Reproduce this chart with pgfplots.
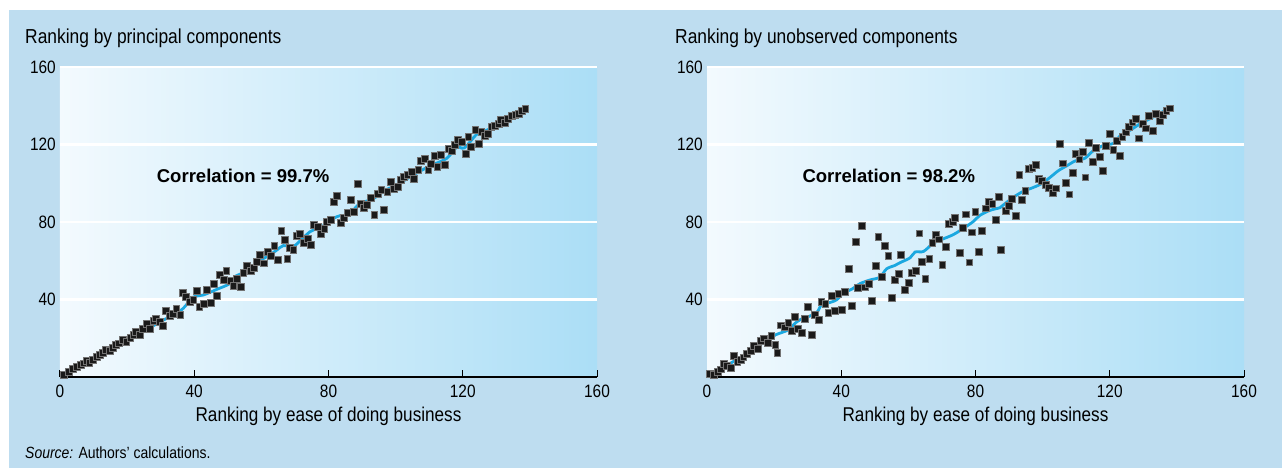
\documentclass[border=0pt]{standalone}
\usepackage{fontspec}
\setmainfont[FakeStretch=0.86]{Liberation Sans}
\newfontfamily\corrfont{Liberation Sans}
\usepackage{pgfplots}
\pgfplotsset{compat=1.18}
\definecolor{outerbg}{RGB}{190,221,240}
\definecolor{bgleft}{RGB}{243,250,254}
\definecolor{bgright}{RGB}{171,222,246}
\definecolor{lineblue}{RGB}{27,168,224}
\definecolor{markblack}{RGB}{26,26,26}

\pgfplotsset{
  panel/.style={
    scale only axis, width=537bp, height=310bp,
    anchor=south west,
    xmin=0, xmax=160, ymin=0, ymax=160,
    xtick={0,40,80,120,160}, ytick={40,80,120,160},
    axis x line*=bottom, axis y line*=left,
    y axis line style={draw=none},
    x axis line style={black, line width=2.6bp},
    tick align=inside, major tick length=7bp,
    x tick style={black, line width=1bp},
    y tick style={draw=none},
    ymajorgrids, major grid style={white, line width=2.4bp},
    axis background/.style={shade, left color=bgleft, right color=bgright},
    /pgf/number format/assume math mode=true,
    tick label style={font=\fontsize{18}{20}\selectfont},
    xticklabel style={anchor=north, inner sep=0pt, yshift=-8bp},
    yticklabel style={anchor=east, inner sep=0pt, xshift=-4bp},
    xlabel style={font=\fontsize{20}{24}\selectfont, at={(axis description cs:0.5,0)}, anchor=center, yshift=-39bp},
    clip=false,
  },
  pts/.style={only marks, mark=square*, mark size=3.4bp, mark options={fill=markblack, draw=black!55, line width=0.4bp}},
  fit/.style={lineblue, line width=2.8bp, smooth, tension=0.5, no marks},
}

\begin{document}
\begin{tikzpicture}
\useasboundingbox (0,0) rectangle (1282bp,468bp);
\fill[white] (0,0) rectangle (1282bp,468bp);
\fill[outerbg] (9bp,0) rectangle (1282bp,458bp);

\node[anchor=base west, inner sep=0pt, font=\fontsize{20.3}{24}\selectfont] at (25bp,424bp) {Ranking by principal components};
\node[anchor=base west, inner sep=0pt, font=\fontsize{20.3}{24}\selectfont] at (675bp,424bp) {Ranking by unobserved components};
\node[anchor=base west, inner sep=0pt, font=\fontsize{16.3}{19}\selectfont] at (25bp,9.5bp) {\textit{Source:} Authors’ calculations.};

% ---------------- Left panel ----------------
\begin{axis}[panel, at={(60bp,91bp)}, xlabel={Ranking by ease of doing business}]
\addplot[fit] coordinates {
(0.8,0.8) (10,10) (20,19.5) (26.8,25.5) (30.8,29.4) (33.8,32) (36.7,35.4) (39.7,41.2)
(42.7,42.3) (46.7,45.2) (50.7,48.3) (52.6,52.3) (56.6,54.9) (58.6,59.0) (62,62.5)
(64.6,65.5) (66.5,67.8) (69.5,67.3) (71.5,70.3) (74.5,75) (76.5,76.5) (78.7,78.3)
(81.4,81.8) (83.5,83.3) (85.4,83.4) (87.4,86.2) (89.4,89.6) (93.4,92.1) (97.3,96.8)
(100,98.7) (105.3,104.3) (110.2,108.9) (115.2,112.8) (118.2,118.6) (120.5,118.3)
(124.2,125.3) (127.1,127.3) (131.1,130.9) (135,134.5) (138.6,138.6)
};
\addplot[pts] coordinates {
(1.0,1.0) (2.5,2.7) (3.8,4.1) (5.0,5.3) (6.2,6.2) (6.9,7.1) (7.9,8.3) (8.7,7.4)
(9.7,9.1) (10.9,10.5) (11.9,11.5) (12.7,12.5) (13.7,13.9) (14.7,13.4) (15.7,15.1)
(16.7,16.5) (17.4,17.4) (18.7,19.4) (19.7,18.2) (20.9,20.3) (21.8,21.7) (22.6,23.4)
(23.8,21.7) (24.6,24.8) (25.8,27.4) (26.8,25.1) (27.8,29.1) (28.6,30.3) (29.6,28.5)
(30.6,26.3) (31.6,34.2) (32.6,31.6) (33.6,32.8) (34.6,35.4) (35.8,32.3) (36.6,43.5)
(37.5,41.4) (38.7,38.9) (39.7,40.1) (40.7,44.5) (41.5,36.3) (42.7,37.7) (43.7,44.9)
(44.9,38.3) (45.7,48.3) (46.7,42.0) (47.7,52.6) (48.7,50.4) (49.5,54.7) (50.7,49.7)
(51.6,47.1) (52.6,50.9) (53.8,46.6) (54.6,53.8) (55.6,57.3) (56.8,54.9) (57.6,56.6)
(58.6,59.5) (59.6,63.3) (60.8,58.7) (61.8,64.7) (62.8,62.5) (63.8,67.6) (64.8,60.4)
(65.9,75.4) (67.0,70.7) (67.7,61.2) (68.5,66.8) (69.5,65.5) (70.5,72.8) (71.5,73.8)
(72.7,69.5) (73.7,71.5) (74.7,68.4) (75.7,78.5) (76.7,77.6) (77.7,74.1) (78.7,76.4)
(79.5,80.2) (80.7,81.3) (81.6,90.5) (82.4,93.4) (83.6,79.7) (84.6,82.4) (85.6,84.8)
(86.6,91.4) (87.6,85.3) (88.6,99.6) (89.6,89.6) (90.6,87.4) (91.4,88.8) (92.6,92.7)
(93.6,83.6) (94.6,94.8) (95.7,96.8) (96.5,86.2) (97.5,95.8) (98.5,100.8) (99.5,97.3)
(100.5,98.2) (101.5,101.7) (102.5,103.4) (103.5,104.3) (104.7,106.0) (105.5,102.5)
(106.7,107.1) (107.5,111.7) (108.6,112.5) (109.7,106.8) (110.5,110.2) (111.7,114.1)
(112.4,108.6) (113.5,114.6) (114.7,109.4) (115.7,117.7) (116.7,116.6) (117.7,119.7)
(118.5,122.6) (119.7,121.5) (120.8,115.4) (121.6,124.2) (122.4,119.0) (123.7,127.5)
(124.7,120.3) (125.5,126.6) (126.5,124.4) (127.5,125.7) (128.5,129.2) (129.6,129.5)
(130.7,130.6) (131.3,132.9) (132.5,131.2) (133.5,133.4) (134.6,134.7) (135.6,135.2)
(136.6,136.1) (137.6,137.4) (138.6,138.6)
};
\node[anchor=base west, inner sep=0pt, font=\corrfont\bfseries\fontsize{18.6}{22}\selectfont] at (axis cs:28.8,100.5) {Correlation = 99.7\%};
\end{axis}

% ---------------- Right panel ----------------
\begin{axis}[panel, at={(707bp,91bp)}, xlabel={Ranking by ease of doing business}]
\addplot[fit] coordinates {
(0.9,1.5) (7.8,7.9) (13.8,13.9) (17.8,19.1) (20.5,21.8) (24.2,24.3) (26.2,27.7)
(28,29.8) (30.7,31.5) (32.7,33.2) (34.2,37.5) (36.1,38.2) (38.6,39.8) (40.6,43.3)
(43.1,45.3) (45.6,48.2) (48.6,50.1) (51.5,51.5) (53.5,55.8) (56,57.6) (57.5,59)
(60.5,61.5) (62,64.5) (64.5,64.8) (67.4,69) (70.4,71.3) (73.4,73.5) (76.4,76.7)
(79.3,80.2) (81.3,83.4) (84.3,86) (87.3,87.4) (88.3,88.8) (91.3,92.8) (94.2,95.8)
(97.2,97.8) (99.7,99.8) (102.2,103) (104.7,106.5) (107.2,109) (109.7,111.5)
(112.6,112.9) (115.1,116.8) (118.1,119.5) (121.1,120.6) (123.1,124.5) (126,127.3)
(129,130.6) (132,133.3) (135,136.1) (137.8,139)
};
\addplot[pts] coordinates {
(0.9,1.9) (2.1,1.0) (3.1,2.7) (4.1,4.0) (4.9,6.7) (5.9,5.7) (7.1,5.0) (7.9,10.8)
(9.0,7.9) (10.0,8.8) (10.8,10.2) (11.8,11.9) (13.0,13.6) (14.0,16.0) (15.0,14.8)
(16.0,18.7) (17.0,20.0) (18.0,17.7) (19.1,21.2) (20.3,16.5) (20.9,12.7) (22.0,26.7)
(23.2,25.7) (24.2,28.0) (25.2,23.9) (26.2,31.1) (27.1,25.1) (28.2,22.9) (29.2,30.1)
(29.9,36.1) (31.1,21.8) (32.2,32.0) (33.2,29.4) (34.0,38.9) (35.2,38.0) (36.1,33.2)
(37.2,42.0) (38.1,34.2) (39.1,42.8) (40.1,34.9) (41.1,44.0) (42.1,56.1) (43.2,36.8)
(44.3,69.8) (45.0,46.1) (46.1,78.1) (47.1,46.3) (48.1,48.0) (49.0,39.4) (50.2,57.3)
(51.0,72.4) (52.0,51.8) (53.0,67.8) (54.0,62.5) (55.0,40.9) (56.0,50.1) (57.0,53.2)
(57.8,63.0) (59.0,44.9) (60.0,48.7) (61.0,54.0) (62.2,54.9) (63.2,74.2) (64.0,59.5)
(65.0,50.9) (66.2,61.2) (67.1,69.3) (68.1,73.3) (69.1,71.1) (70.1,57.8) (71.1,67.3)
(72.1,79.0) (73.1,80.2) (73.9,82.4) (75.2,64.2) (76.1,77.2) (77.0,84.0) (78.1,59.2)
(78.9,74.7) (79.9,85.3) (81.0,64.7) (81.9,75.5) (83.0,87.1) (83.9,90.5) (85.0,89.3)
(86.0,81.0) (86.9,93.1) (87.6,65.5) (89.0,85.8) (90.0,88.3) (90.8,92.2) (92.0,83.1)
(93.0,104.3) (93.8,91.4) (94.8,96.2) (95.9,107.4) (96.9,108.2) (97.9,109.6)
(98.9,102.5) (99.7,101.3) (100.9,99.4) (101.9,97.9) (102.9,95.3) (104.0,97.4)
(105.0,120.3) (106.0,110.3) (106.9,100.3) (107.9,94.3) (109.0,105.6) (109.7,115.4)
(110.9,112.4) (112.0,116.3) (112.7,103.1) (113.8,121.1) (114.8,111.1) (115.7,118.4)
(116.9,113.7) (117.9,106.3) (118.7,119.2) (119.9,125.4) (121.0,117.2) (122.0,122.0)
(123.0,114.2) (123.7,124.0) (124.8,126.3) (125.7,129.2) (126.7,131.5) (127.7,133.5)
(128.7,123.2) (129.7,130.6) (130.7,128.4) (131.5,134.7) (132.7,127.1) (133.7,135.7)
(134.8,132.3) (135.8,135.2) (136.8,137.4) (137.8,138.7)
};
\node[anchor=base west, inner sep=0pt, font=\corrfont\bfseries\fontsize{18.6}{22}\selectfont] at (axis cs:28.4,100.5) {Correlation = 98.2\%};
\end{axis}
\end{tikzpicture}
\end{document}
